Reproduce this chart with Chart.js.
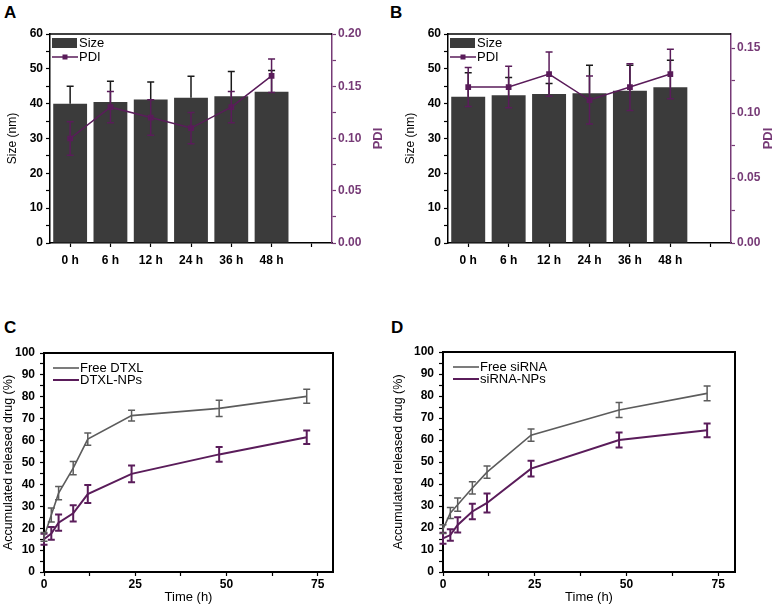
<!DOCTYPE html>
<html>
<head>
<meta charset="utf-8">
<script src="https://cdn.jsdelivr.net/npm/chart.js@4.4.1/dist/chart.umd.min.js"></script>
<style>
  body { margin: 0; background: #fff; width: 777px; height: 611px; position: relative; overflow: hidden;
         font-family: "Liberation Sans", Arial, sans-serif; }
  canvas { position: absolute; }
  .panel { position: absolute; font-weight: bold; font-size: 17px; color: #000; }
</style>
</head>
<body>
<div class="panel" style="left:4px;top:3px">A</div>
<div class="panel" style="left:390px;top:3px">B</div>
<div class="panel" style="left:4px;top:318px">C</div>
<div class="panel" style="left:391px;top:318px">D</div>
<canvas id="chartA" width="390" height="300" style="left:0;top:0"></canvas>
<canvas id="chartB" width="387" height="300" style="left:390px;top:0"></canvas>
<canvas id="chartC" width="388" height="311" style="left:0;top:300px"></canvas>
<canvas id="chartD" width="387" height="311" style="left:390px;top:300px"></canvas>
<script>
'use strict';

// A / B : size and PDI over storage time
const timeLabels = ['0 h', '6 h', '12 h', '24 h', '36 h', '48 h', ''];
const sizeA = [40.0, 40.5, 41.2, 41.7, 42.1, 43.4];
const sizeErrA = [5.0, 5.9, 5.0, 6.2, 7.1, 6.1];
const pdiA = [0.10, 0.13, 0.12, 0.11, 0.13, 0.16];
const pdiErrA = [0.016, 0.015, 0.017, 0.015, 0.015, 0.016];
const sizeB = [42.0, 42.4, 42.8, 43.0, 43.7, 44.7];
const sizeErrB = [6.9, 5.1, 3.0, 8.0, 7.3, 7.8];
const pdiB = [0.12, 0.12, 0.13, 0.11, 0.12, 0.13];
const pdiErrB = [0.015, 0.016, 0.017, 0.0185, 0.018, 0.019];

// C / D : drug release
const releaseTimes = [0, 2, 4, 8, 12, 24, 48, 72];
const freeDtxl = [16, 26.0, 36.0, 47.4, 60.7, 71.4, 74.7, 80.2];
const freeDtxlErr = [2, 3.2, 3, 3, 2.8, 2.5, 3.7, 3.2];
const dtxlNps = [15, 17.6, 22.5, 26.8, 35.6, 44.8, 53.7, 61.5];
const dtxlNpsErr = [2.5, 2.9, 3.7, 3.7, 4.1, 3.8, 3.4, 3.1];
const freeSirna = [19.5, 26.8, 30.6, 38.2, 45.4, 62.2, 73.6, 81.2];
const freeSirnaErr = [2, 2.5, 3, 2.8, 2.8, 2.8, 3.4, 3.4];
const sirnaNps = [15.3, 16.8, 21.4, 27.5, 31.4, 47.0, 60.0, 64.4];
const sirnaNpsErr = [2.5, 2.6, 3.5, 3.5, 4.3, 3.6, 3.4, 3.1];

const PURPLE = '#5a1c5a';
const PURPLE_AXIS = '#763a76';
const BAR_GREY = '#3b3b3b';
const LINE_GREY = '#5c5c5c';
const FONT = '"Liberation Sans", Arial, sans-serif';
const tickFont = { family: FONT, size: 12, weight: 'bold' };

// error bars drawn right after their own dataset
const errorBars = {
  id: 'errorBars',
  afterDatasetDraw(chart, args) {
    const ds = chart.data.datasets[args.index];
    if (!ds.errors) return;
    const meta = args.meta;
    const yScale = chart.scales[meta.yAxisID];
    const ctx = chart.ctx;
    ctx.save();
    ctx.strokeStyle = ds.errorColor;
    ctx.lineWidth = ds.errorWidth || 1.5;
    meta.data.forEach((el, j) => {
      const raw = ds.data[j];
      const v = (raw !== null && typeof raw === 'object') ? raw.y : raw;
      const e = ds.errors[j];
      if (v == null || e == null) return;
      const x = el.x;
      const yTop = yScale.getPixelForValue(v + e);
      const yBot = ds.upperOnly ? yScale.getPixelForValue(v) : yScale.getPixelForValue(v - e);
      const cap = ds.capWidth || 3.5;
      ctx.beginPath();
      ctx.moveTo(x, yTop); ctx.lineTo(x, yBot);
      ctx.moveTo(x - cap, yTop); ctx.lineTo(x + cap, yTop);
      if (!ds.upperOnly) {
        ctx.moveTo(x - cap, yBot); ctx.lineTo(x + cap, yBot);
      }
      ctx.stroke();
    });
    ctx.restore();
  }
};

// frame, inner legend and right-hand axis title
const decor = {
  id: 'decor',
  afterDraw(chart, args, opts) {
    const ctx = chart.ctx;
    const a = chart.chartArea;
    ctx.save();
    ctx.strokeStyle = '#000';
    ctx.lineWidth = opts.frameWidth || 1.5;
    ctx.beginPath();
    ctx.moveTo(a.left, a.top); ctx.lineTo(a.right, a.top);
    if (opts.rightFrame) ctx.lineTo(a.right, a.bottom);
    ctx.stroke();

    ctx.font = '13px ' + FONT;
    ctx.textBaseline = 'middle';
    ctx.fillStyle = '#000';
    (opts.items || []).forEach(it => {
      const x0 = a.left + opts.legendX;
      if (it.kind === 'box') {
        ctx.fillStyle = it.color;
        ctx.fillRect(x0, it.y - 5, 25, 10);
      } else {
        ctx.strokeStyle = it.color;
        ctx.lineWidth = it.width;
        ctx.beginPath();
        ctx.moveTo(x0, it.y); ctx.lineTo(x0 + 26, it.y);
        ctx.stroke();
        if (it.marker) {
          ctx.fillStyle = it.color;
          ctx.fillRect(x0 + 10.5, it.y - 2.5, 5, 5);
        }
      }
      ctx.fillStyle = '#000';
      ctx.fillText(it.label, x0 + 27, it.y + 0.5);
    });

    if (opts.sideTitle) {
      ctx.translate(opts.sideTitle.x, (a.top + a.bottom) / 2);
      ctx.rotate(-Math.PI / 2);
      ctx.textAlign = 'center';
      ctx.fillStyle = PURPLE_AXIS;
      ctx.font = 'bold 13px ' + FONT;
      ctx.fillText(opts.sideTitle.text, 0, 0);
    }
    ctx.restore();
  }
};

// evenly spaced tick marks (major + minor) from the axis minimum up to its maximum
function stepTicks(step) {
  return scale => {
    const ticks = [];
    const n = Math.floor(scale.max / step + 1e-6);
    for (let i = 0; i <= n; i++) ticks.push({ value: +(i * step).toFixed(6) });
    scale.ticks = ticks;
  };
}

function isMultiple(v, step) {
  return Math.abs(v / step - Math.round(v / step)) < 1e-6;
}

function barPanel(id, sizes, sizeErr, pdi, pdiErr, pdiMax, dims) {
  new Chart(document.getElementById(id), {
    type: 'bar',
    data: {
      labels: timeLabels,
      datasets: [
        {
          type: 'line', label: 'PDI', data: pdi, yAxisID: 'y2', order: 0,
          borderColor: PURPLE, backgroundColor: PURPLE, borderWidth: 1.5,
          pointStyle: 'rect', pointRadius: 3, tension: 0,
          errors: pdiErr, errorColor: PURPLE, errorWidth: 1.5, capWidth: 3.5
        },
        {
          type: 'bar', label: 'Size', data: sizes, yAxisID: 'y', order: 1,
          backgroundColor: BAR_GREY, barPercentage: 0.84, categoryPercentage: 1,
          errors: sizeErr, errorColor: '#1a1a1a', errorWidth: 1.5, capWidth: 3.5, upperOnly: true
        }
      ]
    },
    options: {
      responsive: false,
      animation: false,
      layout: { padding: { top: 34 } },
      plugins: {
        legend: { display: false },
        tooltip: { enabled: false },
        decor: {
          legendX: 2,
          items: [
            { kind: 'box', color: BAR_GREY, label: 'Size', y: 43 },
            { kind: 'line', color: PURPLE, width: 1.5, marker: true, label: 'PDI', y: 57 }
          ],
          sideTitle: { text: 'PDI', x: dims.pdiTitleX }
        }
      },
      scales: {
        x: {
          offset: true,
          grid: { offset: false, drawOnChartArea: false, tickLength: 4, tickColor: '#000', tickWidth: 1.2 },
          border: { color: '#000', width: 1.5 },
          ticks: { font: tickFont, color: '#000', padding: 6, maxRotation: 0, autoSkip: false },
          afterFit: s => { s.height = 57; }
        },
        y: {
          position: 'left', min: 0, max: 60,
          grid: { drawOnChartArea: false, tickLength: 4, tickColor: '#000', tickWidth: 1.2 },
          border: { color: '#000', width: 1.5 },
          afterBuildTicks: stepTicks(5),
          ticks: { font: tickFont, color: '#000', padding: 3, autoSkip: false,
                   callback: v => (isMultiple(v, 10) ? v : '') },
          title: { display: true, text: 'Size (nm)', color: '#000',
                   font: { family: FONT, size: 12 }, padding: { top: dims.titlePad, bottom: 0 } },
          afterFit: s => { s.width = dims.left; }
        },
        y2: {
          position: 'right', min: 0, max: pdiMax,
          grid: { drawOnChartArea: false, tickLength: 4, tickColor: PURPLE_AXIS, tickWidth: 1.2 },
          border: { color: PURPLE_AXIS, width: 1.5 },
          afterBuildTicks: stepTicks(0.025),
          ticks: { font: tickFont, color: PURPLE_AXIS, padding: 2, autoSkip: false,
                   callback: v => (isMultiple(v, 0.05) ? v.toFixed(2) : '') },
          afterFit: s => { s.width = dims.right; }
        }
      }
    },
    plugins: [errorBars, decor]
  });
}

function toPoints(xs, ys) {
  return xs.map((x, i) => ({ x: x, y: ys[i] }));
}

function releasePanel(id, freeLabel, free, freeErr, npLabel, nps, npsErr, dims) {
  new Chart(document.getElementById(id), {
    type: 'line',
    data: {
      datasets: [
        {
          label: freeLabel, data: toPoints(releaseTimes, free),
          borderColor: LINE_GREY, borderWidth: 1.6, pointRadius: 0, tension: 0,
          errors: freeErr, errorColor: LINE_GREY, errorWidth: 1.5, capWidth: 3.5
        },
        {
          label: npLabel, data: toPoints(releaseTimes, nps),
          borderColor: PURPLE, borderWidth: 2, pointRadius: 0, tension: 0,
          errors: npsErr, errorColor: PURPLE, errorWidth: 2, capWidth: 3.5
        }
      ]
    },
    options: {
      responsive: false,
      animation: false,
      layout: { padding: { top: dims.top, right: dims.padRight } },
      plugins: {
        legend: { display: false },
        tooltip: { enabled: false },
        decor: {
          rightFrame: true,
          frameWidth: 2,
          legendX: dims.legendX,
          items: [
            { kind: 'line', color: LINE_GREY, width: 1.6, label: freeLabel, y: dims.top + 15 },
            { kind: 'line', color: PURPLE, width: 2, label: npLabel, y: dims.top + 27 }
          ]
        }
      },
      scales: {
        x: {
          type: 'linear', min: 0, max: dims.xMax,
          grid: { drawOnChartArea: false, tickLength: 4, tickColor: '#000', tickWidth: 1.2 },
          border: { color: '#000', width: 2 },
          afterBuildTicks: stepTicks(12.5),
          ticks: { font: tickFont, color: '#000', padding: 1, maxRotation: 0, autoSkip: false,
                   callback: v => (isMultiple(v, 25) ? v : '') },
          title: { display: true, text: 'Time (h)', color: '#000',
                   font: { family: FONT, size: 13 }, padding: { top: 0, bottom: 6 } },
          afterFit: s => { s.height = 39; }
        },
        y: {
          min: 0, max: 100,
          grid: { drawOnChartArea: false, tickLength: 4, tickColor: '#000', tickWidth: 1.2 },
          border: { color: '#000', width: 2 },
          afterBuildTicks: stepTicks(5),
          ticks: { font: tickFont, color: '#000', padding: 5, autoSkip: false,
                   callback: v => (isMultiple(v, 10) ? v : '') },
          title: { display: true, text: 'Accumulated released drug (%)', color: '#000',
                   font: { family: FONT, size: 12.5 }, padding: { top: dims.titlePad, bottom: 0 } },
          afterFit: s => { s.width = dims.left; }
        }
      }
    },
    plugins: [errorBars, decor]
  });
}

barPanel('chartA', sizeA, sizeErrA, pdiA, pdiErrA, 0.20,
  { left: 50, right: 58, titlePad: 5, pdiTitleX: 378 });
barPanel('chartB', sizeB, sizeErrB, pdiB, pdiErrB, 0.1608,
  { left: 58, right: 46, titlePad: 13, pdiTitleX: 378 });
releasePanel('chartC', 'Free DTXL', freeDtxl, freeDtxlErr, 'DTXL-NPs', dtxlNps, dtxlNpsErr,
  { top: 53, padRight: 55, left: 44, titlePad: 1, legendX: 9, xMax: 79.2 });
releasePanel('chartD', 'Free siRNA', freeSirna, freeSirnaErr, 'siRNA-NPs', sirnaNps, sirnaNpsErr,
  { top: 52, padRight: 42, left: 53, titlePad: 1, legendX: 10, xMax: 79.6 });
</script>
</body>
</html>
